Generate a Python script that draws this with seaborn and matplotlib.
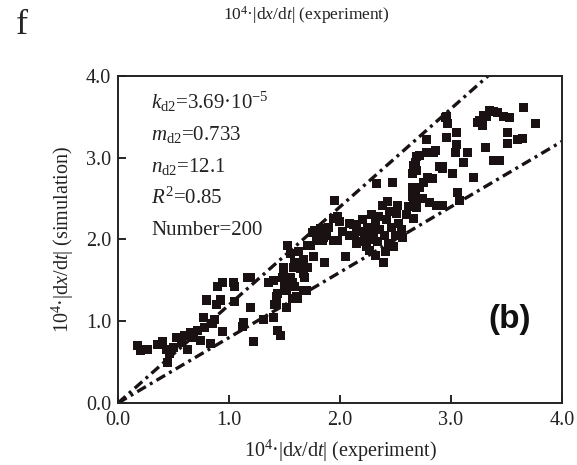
import matplotlib
matplotlib.use("Agg")
import matplotlib.pyplot as plt
import seaborn as sns
import pandas as pd
import numpy as np

# ---- data ----
exp_x = [
    # low region
    0.18, 0.20, 0.23, 0.27, 0.36, 0.40, 0.44, 0.46, 0.45, 0.50, 0.53, 0.57, 0.60, 0.63, 0.65, 0.68,
    0.72, 0.74, 0.77, 0.78, 0.80, 0.83, 0.85, 0.87, 0.89, 0.90, 0.94, 0.92, 0.94, 1.04, 1.05, 1.05,
    1.12, 1.17, 1.19, 1.22, 1.13,
    # middle region
    1.31, 1.40, 1.40, 1.44, 1.46, 1.43, 1.44, 1.52, 1.49, 1.53, 1.55, 1.58, 1.57, 1.61, 1.67, 1.70,
    1.67, 1.71, 1.76, 1.79, 1.86, 1.85, 1.95, 2.09, 2.15, 2.13, 1.94, 1.98, 1.82, 1.77, 1.75, 1.88,
    1.94, 1.98, 1.84, 1.73, 2.05, 1.49, 1.59, 1.64, 1.71, 1.68, 1.48, 1.55, 1.52, 1.59, 1.67, 1.43,
    1.57, 1.62, 1.19, 1.41, 1.90, 2.02, 2.00, 1.80, 1.63, 1.50, 1.36,
    # cluster near 2.1-2.6
    2.09, 2.12, 2.15, 2.18, 2.20, 2.22, 2.24, 2.25, 2.27, 2.28, 2.30, 2.32, 2.32, 2.34, 2.36, 2.38,
    2.39, 2.40, 2.42, 2.43, 2.44, 2.45, 2.46, 2.48, 2.50, 2.51, 2.52, 2.53, 2.56, 2.55, 2.20, 2.28,
    2.35, 2.33, 2.47, 2.26, 2.41,
    # 2.6-3.2
    2.66, 2.66, 2.69, 2.81, 2.87, 2.65, 2.68, 2.65, 2.72, 2.75, 2.83, 2.79, 2.65, 2.66, 2.69, 2.72,
    2.78, 2.84, 2.86, 2.68, 2.69, 2.90, 2.92, 3.01, 2.95, 2.97, 2.96, 3.05, 2.96, 2.78, 3.05, 3.04,
    3.15, 3.11, 2.92, 3.06, 3.08, 2.92, 2.60, 2.62, 2.74,
    # upper right
    3.65, 3.35, 3.38, 3.29, 3.26, 3.24, 3.28, 3.47, 3.53, 3.76, 3.51, 3.51, 3.60, 3.64, 3.31, 3.38,
    3.44, 3.20, 3.32, 3.42,
]
sim_y = [
    0.70, 0.64, 0.66, 0.65, 0.71, 0.75, 0.66, 0.61, 0.50, 0.68, 0.80, 0.74, 0.83, 0.66, 0.86, 0.80,
    0.89, 0.77, 1.05, 0.92, 1.26, 0.73, 0.97, 1.02, 1.20, 1.42, 1.47, 1.26, 0.87, 1.48, 1.42, 1.24,
    0.93, 1.54, 1.17, 0.75, 0.98,
    1.02, 1.50, 1.05, 0.89, 0.83, 1.20, 1.34, 1.17, 1.59, 1.93, 1.83, 1.66, 1.47, 1.30, 1.59, 1.38,
    1.75, 1.93, 1.79, 1.99, 1.72, 2.03, 2.48, 2.20, 2.14, 2.05, 2.26, 2.28, 2.14, 2.11, 2.08, 2.05,
    1.99, 1.99, 1.99, 1.93, 1.79, 1.66, 1.72, 1.65, 1.66, 1.54, 1.54, 1.53, 1.38, 1.42, 1.38, 1.30,
    1.28, 1.28, 1.54, 1.20, 2.15, 2.10, 2.22, 2.05, 1.85, 1.45, 1.48,
    2.05, 2.18, 1.95, 2.10, 2.25, 2.02, 1.92, 2.15, 1.87, 2.30, 2.08, 1.81, 2.20, 1.98, 2.12, 2.42,
    1.72, 2.05, 2.25, 2.46, 1.95, 2.34, 2.15, 1.91, 2.05, 2.32, 2.42, 2.20, 2.02, 2.12, 1.98, 2.00,
    2.28, 2.69, 2.70, 2.12, 1.85,
    2.26, 2.48, 2.39, 2.45, 2.42, 2.52, 2.54, 2.63, 2.64, 2.70, 2.75, 2.76, 2.81, 2.91, 3.01, 3.03,
    3.06, 3.06, 3.09, 2.94, 2.85, 2.89, 2.89, 2.81, 3.49, 3.42, 3.50, 3.31, 3.25, 3.22, 3.16, 3.07,
    3.07, 2.94, 2.87, 2.58, 2.48, 2.42, 2.30, 2.40, 2.50,
    3.61, 3.58, 3.56, 3.52, 3.46, 3.43, 3.40, 3.50, 3.49, 3.42, 3.31, 3.18, 3.22, 3.24, 3.12, 2.97,
    2.97, 2.76, 3.50, 3.55,
]
guide_x = [0.0, 4.0]
upper_y = [0.0, 4.8]   # +20 % line
lower_y = [0.0, 3.2]   # -20 % line
ticks = [0.0, 1.0, 2.0, 3.0, 4.0]
tick_labels = ["0.0", "1.0", "2.0", "3.0", "4.0"]
stats_lines = [r"$k_{\rm d2}$=3.69·10$^{-5}$", r"$m_{\rm d2}$=0.733", r"$n_{\rm d2}$=12.1",
               r"$R^2$=0.85", "Number=200"]

df = pd.DataFrame({"x": exp_x, "y": sim_y})
lines = pd.DataFrame({"x": guide_x * 2, "y": upper_y + lower_y,
                      "g": ["up", "up", "lo", "lo"]})

sns.set_style("ticks")
plt.rcParams["font.family"] = ["Liberation Serif", "DejaVu Serif"]
plt.rcParams["mathtext.fontset"] = "custom"
plt.rcParams["mathtext.rm"] = "Liberation Serif"
plt.rcParams["mathtext.it"] = "Liberation Serif:italic"
plt.rcParams["mathtext.bf"] = "Liberation Serif:bold"

fig = plt.figure(figsize=(5.77, 4.65), dpi=100)
ax = fig.add_axes([0.2045, 0.1333, 0.7695, 0.7033])

dark = "#1a1212"
sns.lineplot(data=lines, x="x", y="y", units="g", estimator=None, ax=ax,
             color=dark, lw=2.4, linestyle=(0, (3.0, 1.4, 0.9, 1.4)), legend=False)
sns.scatterplot(data=df, x="x", y="y", marker="s", s=42, color=dark,
                edgecolor="none", linewidth=0, ax=ax, legend=False, zorder=3)

ax.set_xlim(0, 4)
ax.set_ylim(0, 4)
ax.set_xticks(ticks)
ax.set_xticklabels(tick_labels)
ax.set_yticks(ticks)
ax.set_yticklabels(tick_labels)
ax.tick_params(direction="in", length=6, width=1.2, labelsize=14.5, colors="black",
               labelcolor="#222222", top=False, right=False)
ax.tick_params(axis="x", pad=6)
ax.tick_params(axis="y", pad=5)
for sp in ax.spines.values():
    sp.set_visible(True)
    sp.set_linewidth(1.4)
    sp.set_color("#222222")

ax.set_xlabel(r"10$^4$·|d$x$/d$t$| (experiment)", fontsize=14.5, color="#222222")
ax.set_ylabel(r"10$^4$·|d$x$/d$t$| (simulation)", fontsize=14.5, color="#222222")
ax.xaxis.set_label_coords(0.5, -0.105)
ax.yaxis.set_label_coords(-0.095, 0.5)

for i, t in enumerate(stats_lines):
    ax.text(0.075, 0.92 - i * 0.098, t, transform=ax.transAxes, fontsize=15,
            color="#222222", va="center", ha="left")

ax.text(3.53, 1.02, "(b)", fontsize=24, fontweight="bold", family="Liberation Sans",
        ha="center", va="center", color="#111111")

fig.text(22 / 577, 1 - 26 / 465, "f", fontsize=26, ha="center", va="center")
fig.text(306 / 577, 1 - 15 / 465, r"10$^4$·|d$x$/d$t$| (experiment)", fontsize=12.5,
         ha="center", va="center", color="#222222")

fig.savefig("out.png", dpi=100)
